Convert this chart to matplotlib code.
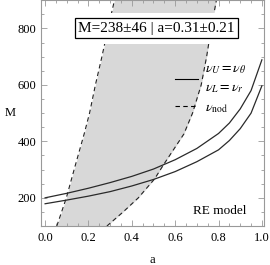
import matplotlib
matplotlib.use('Agg')
import matplotlib.pyplot as plt
from matplotlib.lines import Line2D
from matplotlib.ticker import MultipleLocator, FormatStrFormatter

plt.rcParams['font.family'] = ['Liberation Serif', 'DejaVu Serif']
plt.rcParams['mathtext.fontset'] = 'stix'

# resonance curves  M(a)
a_res = [0.0, 0.1, 0.2, 0.3, 0.4, 0.5, 0.6, 0.7, 0.8, 0.85, 0.9, 0.95, 1.0]
M_upper = [200, 216, 234, 254, 276, 302, 335, 375, 428, 465, 515, 580, 689]
M_lower = [179, 192, 206, 222, 242, 265, 293, 328, 370, 403, 445, 500, 597]

# nodal precession band  a(M)
M_band = [100, 150, 200, 267, 317, 426, 500, 600, 700, 800, 900]
a_left = [0.054, 0.076, 0.098, 0.122, 0.140, 0.180, 0.205, 0.232, 0.262, 0.290, 0.320]
a_right = [0.285, 0.360, 0.430, 0.505, 0.546, 0.640, 0.680, 0.720, 0.745, 0.766, 0.790]

fig = plt.figure(figsize=(2.7, 2.65), dpi=100)
ax = fig.add_axes([0.151, 0.147, 0.827, 0.852])

ax.fill_betweenx(M_band, a_left, a_right, color='#d8d8d8', lw=0)
ax.plot(a_left, M_band, color='#222222', lw=0.8, ls=(0, (4, 3)))
ax.plot(a_right, M_band, color='#222222', lw=0.8, ls=(0, (4, 3)))
ax.plot(a_res, M_upper, color='#2a2a2a', lw=0.9)
ax.plot(a_res, M_lower, color='#2a2a2a', lw=0.9)

ax.set_xlim(-0.02, 1.01)
ax.set_ylim(100, 900)

ax.xaxis.set_major_locator(MultipleLocator(0.2))
ax.xaxis.set_minor_locator(MultipleLocator(0.05))
ax.yaxis.set_major_locator(MultipleLocator(200))
ax.yaxis.set_minor_locator(MultipleLocator(50))
ax.xaxis.set_major_formatter(FormatStrFormatter('%.1f'))
ax.tick_params(which='both', direction='in', top=True, right=True,
               color='#999999', labelsize=9)
ax.tick_params(which='major', length=4.5, width=0.6)
ax.tick_params(which='minor', length=2.5, width=0.6)
ax.tick_params(axis='x', pad=4)
ax.tick_params(axis='y', pad=3)
for s in ax.spines.values():
    s.set_color('#999999')
    s.set_linewidth(0.8)

ax.set_xlabel('a', fontsize=9)
ax.xaxis.set_label_coords(0.498, -0.125)
ax.set_ylabel('M', fontsize=9, rotation=0, ha='center', va='center')
ax.yaxis.set_label_coords(-0.137, 0.5)

# info box (white margin + framed text)
txt = 'M=238±46 | a=0.31±0.21'
ax.text(0.518, 0.876, txt, transform=ax.transAxes, ha='center', va='center',
        fontsize=11, color='none',
        bbox=dict(boxstyle='square,pad=0.6', fc='white', ec='none'))
ax.text(0.518, 0.876, txt, transform=ax.transAxes, ha='center', va='center',
        fontsize=11,
        bbox=dict(boxstyle='square,pad=0.22', fc='white', ec='black', lw=0.9))

ax.text(0.803, 0.066, 'RE model', transform=ax.transAxes, ha='center',
        va='center', fontsize=9.5)

handles = [Line2D([], [], color='black', lw=0.8),
           Line2D([], [], color='black', lw=0.8, ls=(0, (4, 3)))]
labels = ['$\\nu_U=\\nu_\\theta$\n$\\nu_L=\\nu_r$', '$\\nu_{\\rm nod}$']
leg = ax.legend(handles, labels, loc='upper left', bbox_to_anchor=(0.6, 0.72),
                frameon=False, fontsize=10, handlelength=1.65,
                handletextpad=0.5, labelspacing=0.45, borderpad=0,
                borderaxespad=0)
leg.get_texts()[0].set_linespacing(1.45)

fig.savefig('out.png', dpi=100)
